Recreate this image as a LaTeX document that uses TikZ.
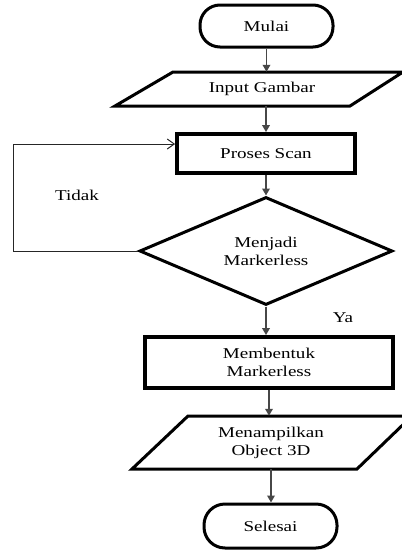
\documentclass[tikz,border=0pt]{standalone}
\usepackage{fontspec}
\setmainfont[FakeStretch=1.27]{Liberation Serif}
\usetikzlibrary{arrows.meta,shapes.geometric,calc}
\begin{document}
\begin{tikzpicture}[x=1pt,y=-1pt,
  every node/.style={font=\fontsize{15}{18}\selectfont, align=center, inner sep=0pt},
  term/.style={draw, line width=3pt, rounded corners=20pt, minimum width=133pt, minimum height=42pt},
  proc/.style={draw, line width=3.8pt},
  iotxt/.style={minimum width=150pt},
  dec/.style={draw, diamond, aspect=2.34, line width=3pt, minimum width=253pt, minimum height=108pt},
  shapeline/.style={line width=3pt, line join=miter},
  flow/.style={draw=black!72, line width=1.8pt, -{Triangle[length=7pt,width=7.5pt]}},
  loopline/.style={draw=black!85, line width=1pt, -{Straight Barb[length=7pt,width=10pt,line width=1pt]}}
]
\useasboundingbox (0,0) rectangle (402,550);

\node[term] (mulai) at (266.5,26) {Mulai};

\node[iotxt, minimum height=34pt] (input) at (262,89) {Input Gambar};
\draw[shapeline] (115,106) -- (173,72) -- (403,72) -- (350,106) -- cycle;

\node[proc, minimum width=178pt, minimum height=39pt] (scan) at (266,153.5) {Proses Scan};

\node[dec] (dec) at (266,251) {Menjadi\\Markerless};

\node[proc, minimum width=248pt, minimum height=51pt] (bentuk) at (269,362.5) {Membentuk\\Markerless};

\node[iotxt, minimum height=53pt] (tampil) at (271,442.5) {Menampilkan\\ Object 3D};
\draw[shapeline] (132,469) -- (188,416) -- (412,416) -- (357,469) -- cycle;

\node[term, minimum height=44pt, rounded corners=21pt] (selesai) at (270.5,526) {Selesai};

\node (tidak) at (77,195) {Tidak};
\node (ya) at (343,318) {Ya};

\coordinate (loopL) at (13,144);

\draw[flow] (mulai.south) -- (mulai.south |- input.north);
\draw[flow] (scan.north |- input.south) -- (scan.north);
\draw[flow] (scan.south) -- (dec.north);
\draw[flow] (dec.south) -- (dec.south |- bentuk.north);
\draw[flow] (bentuk.south) -- (bentuk.south |- tampil.north);
\draw[flow] (tampil.south) -- (tampil.south |- selesai.north);
\draw[loopline] (dec.west) -| (loopL) -- (loopL -| scan.west);
\end{tikzpicture}
\end{document}
